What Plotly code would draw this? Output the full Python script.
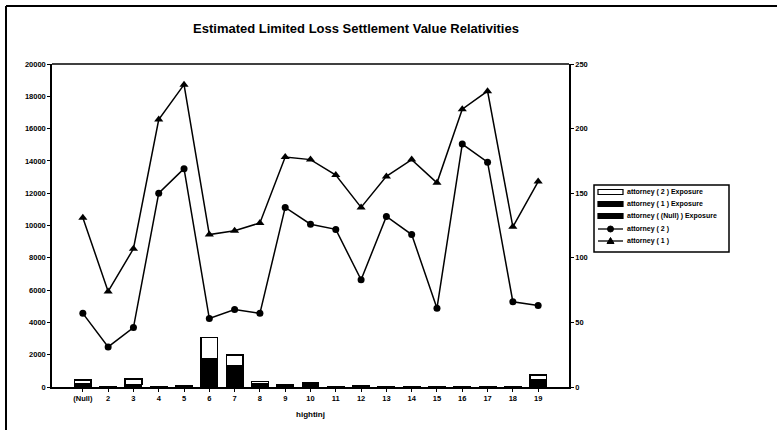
import plotly.graph_objects as go

# Categories along the x axis
categories = ["(Null)", "2", "3", "4", "5", "6", "7", "8", "9", "10",
              "11", "12", "13", "14", "15", "16", "17", "18", "19"]

# Exposure (left axis), stacked columns
exposure_null = [200, 0, 150, 0, 0, 0, 0, 0, 0, 0, 0, 0, 0, 0, 0, 0, 0, 0, 0]
exposure_1 = [0, 30, 0, 30, 60, 1750, 1320, 200, 170, 265, 20, 60, 20, 20, 20, 20, 20, 30, 480]
exposure_2 = [220, 0, 340, 0, 0, 1330, 660, 130, 0, 0, 0, 0, 0, 0, 0, 0, 0, 0, 265]

# Relativities (right axis)
rel_attorney_2 = [57, 31, 46, 150, 169, 53, 60, 57, 139, 126, 122, 83, 132, 118, 61, 188, 174, 66, 63]
rel_attorney_1 = [131, 74, 107, 207, 234, 118, 121, 127, 178, 176, 164, 139, 163, 176, 158, 215, 229, 124, 159]

legend_labels = ["attorney ( 2 ) Exposure", "attorney ( 1 ) Exposure",
                 "attorney ( (Null) ) Exposure", "attorney ( 2 )", "attorney ( 1 )"]

FONT = "Liberation Sans"
tick_font = dict(family=FONT, size=7.5, color="black", weight="bold")

# Plot area in pixels: left 52, right 569, top 64, bottom 387
L, R, T, B = 52, 569, 64, 387


def px(x):
    return (x - L) / (R - L)


def py(y):
    return (B - y) / (B - T)


fig = go.Figure()

fig.add_trace(go.Bar(
    x=categories, y=exposure_null, name=legend_labels[2],
    marker=dict(color="black", line=dict(color="black", width=1.2)), yaxis="y",
))
fig.add_trace(go.Bar(
    x=categories, y=exposure_1, name=legend_labels[1],
    marker=dict(color="black", line=dict(color="black", width=1.2)), yaxis="y",
))
fig.add_trace(go.Bar(
    x=categories, y=exposure_2, name=legend_labels[0],
    marker=dict(color="white", line=dict(color="black", width=1.5)), yaxis="y",
))
fig.add_trace(go.Scatter(
    x=categories, y=rel_attorney_2, name=legend_labels[3],
    mode="lines+markers", yaxis="y2",
    line=dict(color="black", width=1.5),
    marker=dict(symbol="circle", size=7, color="black"),
))
fig.add_trace(go.Scatter(
    x=categories, y=rel_attorney_1, name=legend_labels[4],
    mode="lines+markers", yaxis="y2",
    line=dict(color="black", width=1.5),
    marker=dict(symbol="triangle-up", size=8, color="black"),
))

shapes = [
    # outer frame of the chart (left and top edges)
    dict(type="line", xref="paper", yref="paper",
         x0=px(6), x1=px(6), y0=py(432), y1=py(6), line=dict(color="black", width=2)),
    dict(type="line", xref="paper", yref="paper",
         x0=px(6), x1=px(779), y0=py(6), y1=py(6), line=dict(color="black", width=2)),
    # top edge of the plotting area
    dict(type="line", xref="paper", yref="paper", x0=0, x1=1, y0=1, y1=1,
         line=dict(color="black", width=1.5)),
    # legend box
    dict(type="rect", xref="paper", yref="paper",
         x0=px(594), x1=px(729), y0=py(252), y1=py(185),
         line=dict(color="black", width=1.5), fillcolor="white"),
]
annotations = []

# legend entries
row_y = [192, 204, 216, 229, 241]
sx0, sx1, tx = 598, 623, 625
for i, (label, yy) in enumerate(zip(legend_labels, row_y)):
    if i < 3:
        shapes.append(dict(
            type="rect", xref="paper", yref="paper",
            x0=px(sx0), x1=px(sx1), y0=py(yy + 2.5), y1=py(yy - 2.5),
            line=dict(color="black", width=1.2),
            fillcolor="white" if i == 0 else "black"))
    else:
        shapes.append(dict(
            type="line", xref="paper", yref="paper",
            x0=px(sx0), x1=px(sx1), y0=py(yy), y1=py(yy),
            line=dict(color="black", width=1.3)))
        cx = (sx0 + sx1) / 2
        if i == 3:
            shapes.append(dict(
                type="circle", xref="paper", yref="paper",
                x0=px(cx - 3), x1=px(cx + 3), y0=py(yy + 3), y1=py(yy - 3),
                line=dict(color="black", width=1), fillcolor="black"))
        else:
            shapes.append(dict(
                type="path", xref="paper", yref="paper",
                path=f"M {px(cx - 3.5)},{py(yy + 2.5)} L {px(cx + 3.5)},{py(yy + 2.5)} "
                     f"L {px(cx)},{py(yy - 3.5)} Z",
                line=dict(color="black", width=1), fillcolor="black"))
    annotations.append(dict(
        text=label, xref="paper", yref="paper", x=px(tx), y=py(yy),
        xanchor="left", yanchor="middle", showarrow=False,
        font=dict(family=FONT, size=7, color="black", weight="bold")))

fig.update_layout(
    width=777, height=430,
    margin=dict(l=L, r=777 - R, t=T, b=430 - B),
    paper_bgcolor="white", plot_bgcolor="white",
    barmode="stack", bargap=0.34,
    showlegend=False,
    title=dict(text="Estimated Limited Loss Settlement Value Relativities",
               x=356 / 777, xanchor="center", y=1 - 28 / 430, yanchor="middle",
               font=dict(family=FONT, size=13, color="black", weight="bold")),
    xaxis=dict(
        type="category", showgrid=False, showline=True, linecolor="black", linewidth=1.5,
        ticks="outside", ticklen=3, tickcolor="black", tickfont=tick_font,
        title=dict(text="hightinj", font=dict(family=FONT, size=8, color="black", weight="bold"),
                   standoff=10),
    ),
    yaxis=dict(
        range=[0, 20000], dtick=2000, tickformat="d", showgrid=False, showline=True,
        linecolor="black", linewidth=1.5, ticks="outside", ticklen=3, tickcolor="black",
        tickfont=tick_font, zeroline=False,
    ),
    yaxis2=dict(
        range=[0, 250], dtick=50, overlaying="y", side="right", showgrid=False,
        showline=True, linecolor="black", linewidth=1.5, ticks="outside", ticklen=3,
        tickcolor="black", tickfont=tick_font, zeroline=False,
    ),
    shapes=shapes,
    annotations=annotations,
)

fig.write_html("out.html")
